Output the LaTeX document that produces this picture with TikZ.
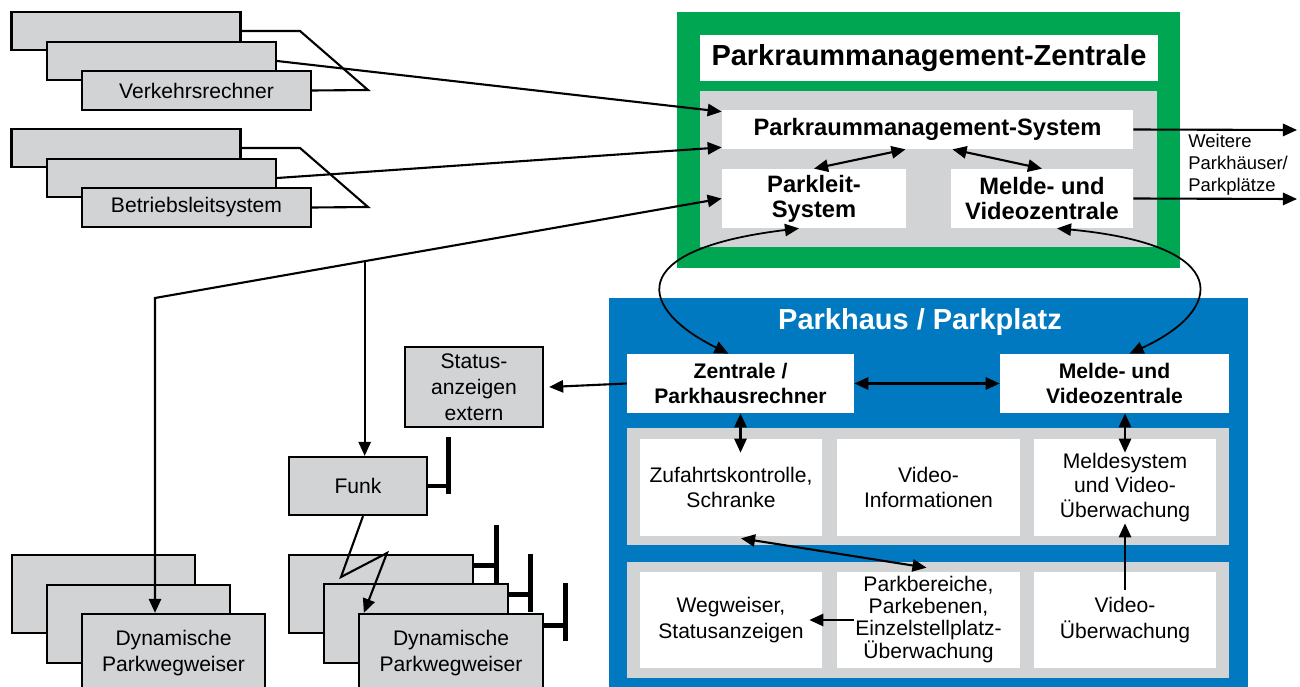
\documentclass[tikz,border=0pt]{standalone}
\usepackage{fontspec}
\setmainfont{Liberation Sans}
\usepackage{xcolor}
\usetikzlibrary{arrows.meta,calc}

\definecolor{pgreen}{RGB}{0,166,81}
\definecolor{pblue}{RGB}{0,121,193}
\definecolor{boxgray}{RGB}{209,211,212}

\begin{document}
\begin{tikzpicture}[x=0.02cm,y=-0.02cm]
\useasboundingbox (0,0) rectangle (1300,686);

% frames
\fill[pgreen] (677,12) rectangle (1180,268);
\fill[boxgray] (700,91) rectangle (1157,247);
\fill[pblue] (609,298) rectangle (1248,700);
\fill[boxgray] (627,428) rectangle (1229,545);
\fill[boxgray] (627,562) rectangle (1229,678);

% gray boxes
\begin{scope}[every node/.style={draw=black,line width=1.3pt,fill=boxgray,inner sep=0pt,align=center,
                                 font=\fontsize{12}{14.7}\selectfont}]
    \node[minimum width=4.58cm,minimum height=0.76cm] (V1) at (126,31) {};
    \node[minimum width=4.58cm,minimum height=0.76cm] (V2) at (161.5,61) {};
    \node[minimum width=4.58cm,minimum height=0.78cm] (V3) at (196.5,90.5) {Verkehrsrechner};
    \node[minimum width=4.58cm,minimum height=0.76cm] (B1) at (126,148) {};
    \node[minimum width=4.58cm,minimum height=0.76cm] (B2) at (161.5,178) {};
    \node[minimum width=4.58cm,minimum height=0.78cm] (B3) at (196.5,207.5) {Betriebsleitsystem};
    \node[minimum width=2.76cm,minimum height=1.6cm] (SA) at (474,387) {Status-\\anzeigen\\extern};
    \node[minimum width=2.76cm,minimum height=1.16cm] (FU) at (358,486) {Funk};
    \node[minimum width=3.66cm,minimum height=1.56cm] (L1) at (103.5,594) {};
    \node[minimum width=3.66cm,minimum height=1.56cm] (L2) at (138.5,624) {};
    \node[minimum width=3.66cm,minimum height=1.56cm] (L3) at (173.5,653) {Dynamische\\Parkwegweiser};
    \node[minimum width=3.68cm,minimum height=1.56cm] (R1) at (381,594) {};
    \node[minimum width=3.68cm,minimum height=1.58cm] (R2) at (416,623.5) {};
    \node[minimum width=3.68cm,minimum height=1.56cm] (R3) at (451,653) {Dynamische\\Parkwegweiser};
\end{scope}

% white boxes
\begin{scope}[every node/.style={fill=white,inner sep=0pt,align=center}]
    \node[minimum width=9.16cm,minimum height=0.92cm,font=\fontsize{16.5}{19}\selectfont\bfseries] (T) at (929,58) {Parkraummanagement-Zentrale};
    \node[minimum width=8.22cm,minimum height=0.78cm,font=\fontsize{13.5}{14.2}\selectfont\bfseries] (PMS) at (927.5,129.5) {Parkraummanagement-System};
    \node[minimum width=3.68cm,minimum height=1.18cm,font=\fontsize{13.5}{14.2}\selectfont\bfseries] (PL) at (814,198.5) {Parkleit-\\System};
    \node[minimum width=3.64cm,minimum height=1.18cm,font=\fontsize{13.5}{14.2}\selectfont\bfseries] (MV) at (1042,198.5) {Melde- und\\Videozentrale};
    \node[minimum width=4.54cm,minimum height=1.18cm,font=\fontsize{12}{14.2}\selectfont\bfseries] (ZR) at (740.5,383.5) {Zentrale /\\Parkhausrechner};
    \node[minimum width=4.58cm,minimum height=1.18cm,font=\fontsize{12}{14.2}\selectfont\bfseries] (MP) at (1114.5,383.5) {Melde- und\\Videozentrale};
    \node[minimum width=3.64cm,minimum height=1.94cm,font=\fontsize{12}{14.7}\selectfont] (C1) at (731,487.5) {Zufahrtskontrolle,\\Schranke};
    \node[minimum width=3.66cm,minimum height=1.94cm,font=\fontsize{12}{14.7}\selectfont] (C2) at (928.5,487.5) {Video-\\Informationen};
    \node[minimum width=3.64cm,minimum height=1.94cm,font=\fontsize{12}{14.2}\selectfont] (C3) at (1125,487.5) {Meldesystem\\und Video-\\Überwachung};
    \node[minimum width=3.64cm,minimum height=1.92cm,font=\fontsize{12}{14.7}\selectfont] (C4) at (731,620) {Wegweiser,\\Statusanzeigen};
    \node[minimum width=3.66cm,minimum height=1.92cm,font=\fontsize{12}{12.3}\selectfont] (C5) at (928.5,620) {Parkbereiche,\\Parkebenen,\\Einzelstellplatz-\\Überwachung};
    \node[minimum width=3.64cm,minimum height=1.92cm,font=\fontsize{12}{14.7}\selectfont] (C6) at (1125,620) {Video-\\Überwachung};
\end{scope}

\node[text=white,font=\fontsize{16.5}{19}\selectfont\bfseries] (PT) at (920,322) {Parkhaus / Parkplatz};
\node[anchor=west,align=left,inner sep=0pt,font=\fontsize{10.5}{12.5}\selectfont] (WT) at (1188,165) {Weitere\\Parkhäuser/\\Parkplätze};

% antennas
\begin{scope}[line width=2.8pt]
    \draw (FU.east) -- ++(20,0) coordinate (FA);
    \draw ($(FA)+(0,-49)$) -- ($(FA)+(0,8)$);
    \draw ($(R1.north east)+(0,12)$) -- ++(22,0) coordinate (A1);
    \draw ($(A1)+(0,-41)$) -- ($(A1)+(0,17)$);
    \draw ($(R2.north east)+(0,12)$) -- ++(21,0) coordinate (A2);
    \draw ($(A2)+(0,-41)$) -- ($(A2)+(0,17)$);
    \draw ($(R3.north east)+(0,13)$) -- ++(21,0) coordinate (A3);
    \draw ($(A3)+(0,-43)$) -- ($(A3)+(0,15)$);
\end{scope}

\coordinate (K) at (155,298);
\coordinate (J) at ($(K)!0.37!(PL.west)$);
\coordinate (W1) at (1297,130);
\coordinate (W2) at (1297,199);
\coordinate (Z1) at (341,577);
\coordinate (Z2) at (387,553);

\begin{scope}[>={Triangle[length=8pt,width=7pt]},
              every edge/.style={draw=black,line width=1.2pt}]
    % brackets of the stacks
    \draw[line width=1.2pt] (V1.east) -- (300,31) -- (368,90) -- (V3.east);
    \draw[line width=1.2pt] (B1.east) -- (300,148) -- (368,207) -- (B3.east);
    \path [->] (V2.east) edge ($(PMS.north west)+(0,2)$);
    \path [->] (B2.east) edge ($(PMS.south west)+(0,-2)$);
    \draw[<->,line width=1.2pt] (K |- L3.north) -- (K) -- (PL.west);
    \path [->] (J) edge (J |- FU.north);
    \draw[->,line width=1.2pt] ($(FU.south)+(5,0)$) -- (Z1) -- (Z2) -- ($(R3.north west)+(6,0)$);
    % zentrale
    \path [<->] (PL.north) edge ($(PMS.south)+(-22,0)$);
    \path [<->] ($(PMS.south)+(25,0)$) edge (MV.north);
    \path [->] (PMS.east) edge (W1);
    \path [->] (MV.east) edge (W2);
    \draw[<->,line width=1pt] ($(PL.south)+(-15,0)$) .. controls (620,250) and (640,310) .. ($(ZR.north)+(-12,0)$);
    \draw[<->,line width=1pt] ($(MV.south)+(15,0)$) .. controls (1235,245) and (1225,310) .. ($(MP.north)+(15,0)$);
    % parkhaus
    \path [->] (ZR.west) edge ($(SA.east)+(5,0)$);
    \path [<->] (ZR.east) edge (MP.west);
    \path [<->] (ZR.south) edge ($(ZR.south |- C1.north)+(0,14)$);
    \path [<->] (C3.north |- MP.south) edge ($(C3.north)+(0,14)$);
    \path [->] ($(C6.north)+(0,18)$) edge ($(C3.south)+(0,-13)$);
    \path [<->] ($(C1.south)+(10,2)$) edge ($(C5.north)+(-2,-4)$);
    \path [->] ($(C5.west)+(17,0)$) edge ($(C4.east)+(-13,0)$);
\end{scope}
\end{tikzpicture}
\end{document}
